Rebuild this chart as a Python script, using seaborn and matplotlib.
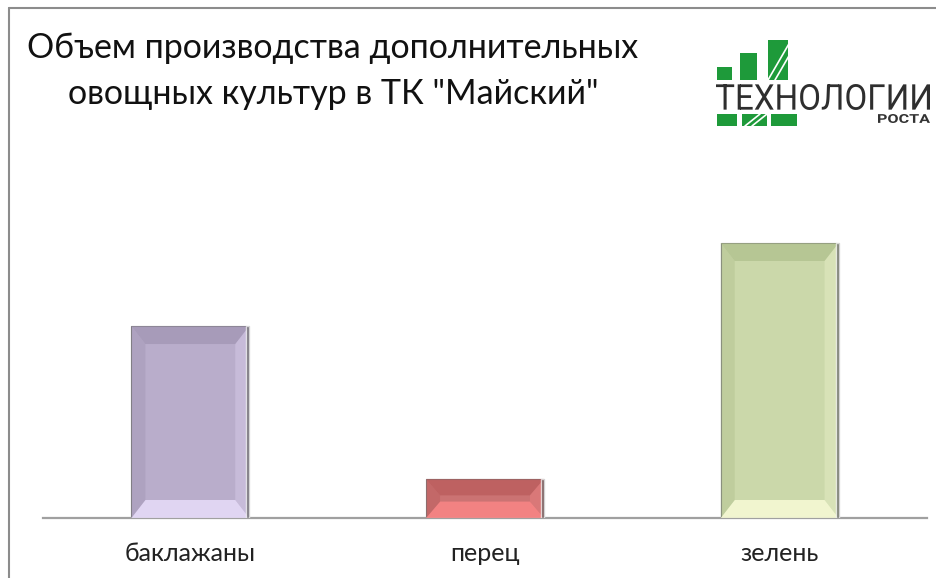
import seaborn as sns
import matplotlib.pyplot as plt
import matplotlib.patches as mpatches
from matplotlib.textpath import TextPath
from matplotlib.font_manager import FontProperties
from matplotlib.transforms import Affine2D
import pandas as pd
import numpy as np

# data (relative volumes, no axis in the original)
crops = ["баклажаны", "перец", "зелень"]
volumes = [69.8, 14.2, 100.0]
face_colors = ["#b8a8d0", "#d96565", "#cfe0a2"]
light_colors = ["#e8ddfa", "#fa8585", "#f8fbd6"]
dark_colors = ["#9c90ae", "#b65555", "#a9bb86"]

W, H = 936, 578

sns.set_theme(style="white")
plt.rcParams["font.family"] = ["Lato", "DejaVu Sans"]

fig = plt.figure(figsize=(W / 100, H / 100), dpi=100)
ax = fig.add_axes([43 / W, 1 - 518 / H, 884 / W, 388 / H])

df = pd.DataFrame({"crop": crops, "volume": volumes})
sns.barplot(data=df, x="crop", y="volume", hue="crop", palette=face_colors,
            width=0.4, legend=False, ax=ax, edgecolor="#7a7a7a", linewidth=0.8)
ax.set_ylim(0, 100 * 388 / 275)
ax.set_xlim(-0.5, 2.5)
ax.set_xlabel("")
ax.set_ylabel("")
ax.set_yticks([])
for s in ["top", "right", "left"]:
    ax.spines[s].set_visible(False)
ax.spines["bottom"].set_color("#a0a0a0")
ax.spines["bottom"].set_linewidth(1.6)
ax.tick_params(axis="x", length=0, pad=17, labelsize=18, labelcolor="#222222")

# bevel overlay on each bar, in pixel units
fig.canvas.draw()
inv = ax.transData.inverted()
for bar, lc, dc in zip(ax.patches, light_colors, dark_colors):
    (x0, y0), (x1, y1) = ax.transData.transform(
        [(bar.get_x(), 0), (bar.get_x() + bar.get_width(), bar.get_height())])
    b = min(18, (y1 - y0) * 0.42)
    s = 14
    polys = [
        ([(x0, y0), (x1, y0), (x1 - s, y0 + b), (x0 + s, y0 + b)], lc, 0.85),
        ([(x0, y1), (x1, y1), (x1 - s, y1 - b), (x0 + s, y1 - b)], dc, 0.6),
        ([(x0, y0), (x0 + s, y0 + b), (x0 + s, y1 - b), (x0, y1)], dc, 0.35),
        ([(x1, y0), (x1 - s, y0 + b), (x1 - s, y1 - b), (x1, y1)], lc, 0.3),
    ]
    for pts, c, a in polys:
        ax.add_patch(mpatches.Polygon(inv.transform(pts), closed=True,
                                      facecolor=c, edgecolor="none", alpha=a, zorder=3))
    ax.add_patch(mpatches.Rectangle((x1 - 3, y0), 3, y1 - y0, transform=None,
                                    facecolor="#555555", alpha=0.7, zorder=4))

# title
fig.text(333 / W, 1 - 71 / H, 'Объем производства дополнительных\nовощных культур в ТК "Майский"',
         ha="center", va="center", fontsize=24.5, linespacing=1.5, color="#111111")

# frame of the chart area
fig.add_artist(plt.Line2D([9 / W, 9 / W], [0, 1 - 8 / H], transform=fig.transFigure,
                          color="#8c8c8c", lw=1.5))
fig.add_artist(plt.Line2D([9 / W, 1], [1 - 8 / H, 1 - 8 / H], transform=fig.transFigure,
                          color="#8c8c8c", lw=1.5))

# logo
green = "#1e9a3a"
def px_rect(x, y, w, h, color=green):
    fig.add_artist(mpatches.Rectangle((x / W, 1 - (y + h) / H), w / W, h / H,
                                      transform=fig.transFigure, facecolor=color, edgecolor="none"))

def px_text(txt, x0, y0, x1, y1, family="Roboto", weight="bold", color="#333333"):
    # text squeezed into a pixel box (y measured from the top)
    tp = TextPath((0, 0), txt, size=50, prop=FontProperties(family=family, weight=weight))
    ext = tp.get_extents()
    sx = (x1 - x0) / ext.width
    sy = (y1 - y0) / ext.height
    tr = Affine2D().translate(-ext.x0, -ext.y0).scale(sx, sy).translate(x0, H - y1)
    fig.add_artist(mpatches.PathPatch(tr.transform_path(tp), transform=None,
                                      facecolor=color, edgecolor="none"))

px_rect(717, 67, 15, 13)
px_rect(740, 53, 17, 27)
px_rect(768, 40, 20, 40)
px_rect(717, 114, 20, 12)
px_rect(742, 114, 25, 12)
px_rect(771, 114, 26, 12)
for dx in [0, 7]:
    fig.add_artist(plt.Line2D([(768 + dx) / W, (790 + dx) / W], [1 - 80 / H, 1 - 42 / H],
                              transform=fig.transFigure, color="white", lw=1.2))
    fig.add_artist(plt.Line2D([(745 + dx) / W, (760 + dx) / W], [1 - 126 / H, 1 - 114 / H],
                              transform=fig.transFigure, color="white", lw=1.2))
px_text("ТЕХНОЛОГИИ", 716, 84, 930, 110, weight="normal", color="#2e2e2e")
px_text("РОСТА", 878, 114, 930, 123)

fig.savefig("out.png", dpi=100)
